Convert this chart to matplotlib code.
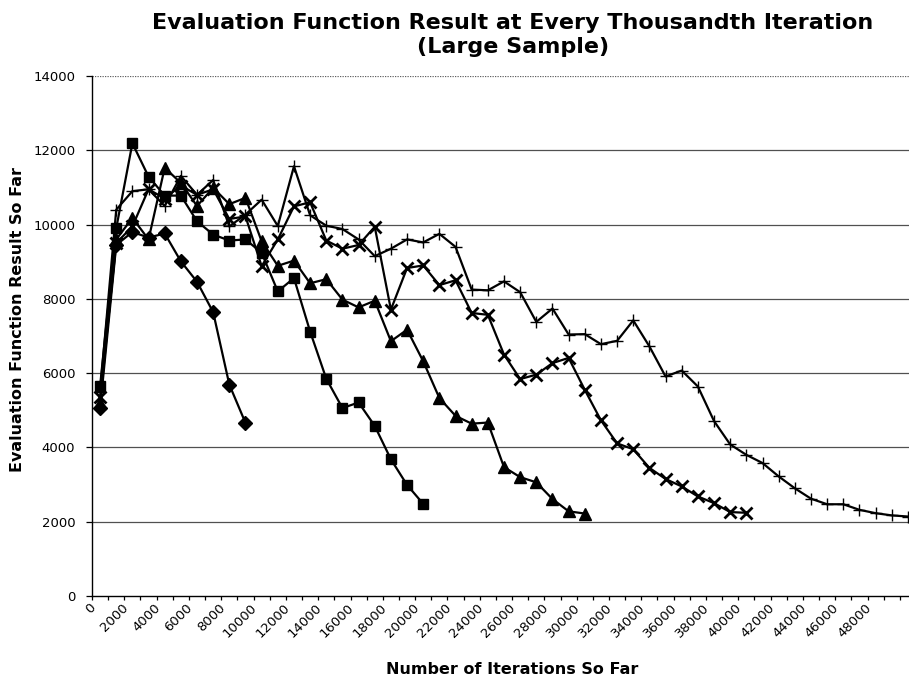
import numpy as np
import matplotlib.pyplot as plt
from matplotlib.transforms import ScaledTranslation

# one sample every thousand iterations
iterations = np.arange(0, 51000, 1000)

# evaluation result for each run (runs stop at different lengths)
run_diamond = [5050, 9450, 9800, 9650, 9760, 9010, 8460, 7640, 5690, 4660]
run_square = [5650, 9900, 12190, 11290, 10780, 10780, 10090, 9730, 9570, 9600,
              9240, 8200, 8560, 7120, 5850, 5060, 5210, 4580, 3680, 2990, 2480]
run_triangle = [5200, 9600, 10180, 9600, 11530, 11120, 10500, 10990, 10550, 10720,
                9550, 8890, 9030, 8420, 8530, 7980, 7770, 7950, 6860, 7170,
                6320, 5330, 4850, 4640, 4670, 3470, 3200, 3060, 2610, 2280, 2220]
run_cross = [5350, 9500, 9950, 10950, 10700, 11050, 10800, 10950, 10150, 10220,
             8880, 9600, 10490, 10600, 9570, 9350, 9450, 9940, 7710, 8830,
             8900, 8370, 8500, 7620, 7570, 6500, 5840, 5960, 6270, 6410,
             5550, 4730, 4110, 3950, 3450, 3150, 2950, 2680, 2500, 2260, 2240]
run_plus = [5500, 10400, 10900, 10950, 10500, 11310, 10800, 11200, 9950, 10270,
            10670, 9960, 11570, 10250, 9970, 9880, 9600, 9150, 9350, 9600,
            9520, 9750, 9400, 8250, 8230, 8470, 8180, 7380, 7740, 7040,
            7050, 6780, 6870, 7420, 6720, 5910, 6070, 5640, 4710, 4080,
            3800, 3580, 3220, 2900, 2620, 2470, 2470, 2320, 2230, 2170, 2140]

y_ticks = list(range(0, 14001, 2000))

fig = plt.figure(figsize=(9.09, 6.85), dpi=100)
# plot area runs a little past the right edge of the figure
ax = fig.add_axes([92/909, 89/685, 824/909, 520/685])

for v in y_ticks[1:-1]:
    ax.axhline(v, color='#505050', lw=0.9, zorder=0)
ax.axhline(y_ticks[-1], color='#606060', lw=0.9, ls=(0, (1, 1)), zorder=0)

ax.plot(iterations[:len(run_diamond)], run_diamond, color='black', lw=1.6,
        marker='D', ms=7.5)
ax.plot(iterations[:len(run_square)], run_square, color='black', lw=1.6,
        marker='s', ms=7)
ax.plot(iterations[:len(run_triangle)], run_triangle, color='black', lw=1.6,
        marker='^', ms=8.5)
ax.plot(iterations[:len(run_cross)], run_cross, color='black', lw=1.6,
        marker='x', ms=8, mew=2)
ax.plot(iterations[:len(run_plus)], run_plus, color='black', lw=1.6,
        marker='+', ms=8, mew=1)

ax.set_xlim(-500, 50500)
ax.set_ylim(0, 14000)

# category axis: tick marks between samples, a label every other sample
label_vals = iterations[iterations <= 48000][::2]
ax.set_xticks(label_vals - 500)
ax.set_xticklabels([str(v) for v in label_vals], rotation=45, ha='right',
                   va='top', rotation_mode='anchor', fontsize=9.5)
ax.set_xticks(np.append(iterations - 500, iterations[-1] + 500), minor=True)
ax.tick_params(axis='x', which='both', length=3, width=0.9, pad=0.5)
shift = ScaledTranslation(-3/100, 0, fig.dpi_scale_trans)
for lbl in ax.get_xticklabels():
    lbl.set_transform(lbl.get_transform() + shift)

ax.set_yticks(y_ticks)
ax.set_yticklabels([str(v) for v in y_ticks], fontsize=9.5)
ax.tick_params(axis='y', length=4, width=0.9, pad=8)

for side in ['top', 'right']:
    ax.spines[side].set_visible(False)
for side in ['left', 'bottom']:
    ax.spines[side].set_linewidth(1.0)

fig.text(513/909, 1 - 35/685,
         'Evaluation Function Result at Every Thousandth Iteration\n(Large Sample)',
         ha='center', va='center', fontsize=16, fontweight='bold', linespacing=1.2)
fig.text(512/909, 1 - 670/685, 'Number of Iterations So Far',
         ha='center', va='center', fontsize=11.5, fontweight='bold')
fig.text(18/909, 1 - 320/685, 'Evaluation Function Result So Far',
         ha='center', va='center', rotation=90, fontsize=11.5, fontweight='bold')

fig.savefig('out.png', dpi=100)
